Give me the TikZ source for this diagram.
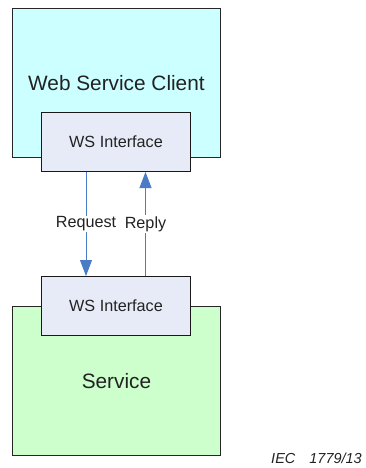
\documentclass[tikz,border=0pt]{standalone}
\usepackage{fontspec}
\setmainfont{Liberation Sans}
\usetikzlibrary{arrows.meta}
\definecolor{clientfill}{HTML}{CCFFFF}
\definecolor{servicefill}{HTML}{CCFFCC}
\definecolor{iffill}{HTML}{E6EBF7}
\definecolor{linkblue}{HTML}{4A7CC6}
\definecolor{txt}{HTML}{222222}
\tikzset{
  bigbox/.style={draw=black!85, line width=0.9pt, anchor=north west, minimum width=208pt, minimum height=149pt, inner sep=0pt, text=txt, font=\fontsize{20.8}{24}\selectfont},
  ifbox/.style={draw=black!90, line width=1pt, fill=iffill, anchor=north west, minimum width=149pt, minimum height=59pt, inner sep=0pt, text=txt, font=\fontsize{16.2}{19}\selectfont},
  link/.style={draw=linkblue, line width=0.8pt, -{Triangle[width=12pt,length=16pt]}},
  linklabel/.style={fill=white, inner sep=1pt, text=txt, font=\fontsize{16.2}{19}\selectfont},
}
\begin{document}
\begin{tikzpicture}[x=1pt,y=-1pt]
\useasboundingbox (0,0) rectangle (366,468);
\node[bigbox, fill=clientfill] (client) at (12,8) {Web Service Client};
\node[bigbox, fill=servicefill] (service) at (12,306) {Service};
\node[ifbox] (ifc) at (41,112) {WS Interface};
\node[ifbox] (ifs) at (41,276) {WS Interface};
\coordinate (rq) at (86,0);
\coordinate (rp) at (145.5,0);
\draw[link] (ifc.south -| rq) -- (ifs.north -| rq) node[midway, linklabel] {Request};
\draw[link] (ifs.north -| rp) -- (ifc.south -| rp) node[midway, linklabel] {Reply};
\node[anchor=base east, text=txt, font=\fontsize{14.5}{17}\selectfont\itshape, inner sep=0pt] (iec) at (362,463) {IEC\hspace{14pt}1779/13};
\end{tikzpicture}
\end{document}
